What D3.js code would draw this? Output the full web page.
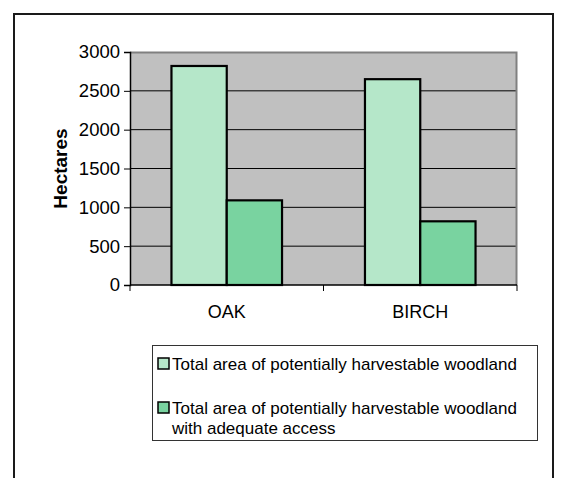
<!DOCTYPE html>
<meta charset="utf-8">
<style>
    body { margin: 0; background: #fff; }
    text { font-family: "Liberation Sans", Arial, sans-serif; fill: #000; }
    .tick text { font-size: 18.5px; }
</style>
<svg width="566" height="478"></svg>
<script src="https://cdn.jsdelivr.net/npm/d3@7/dist/d3.min.js"></script>
<script>

    var categories = ["OAK", "BIRCH"];
    var seriesNames = ["Total area of potentially harvestable woodland",
                       "Total area of potentially harvestable woodland with adequate access"];
    var totalArea = [2820, 2650];
    var accessArea = [1090, 820];
    var yTicks = [0, 500, 1000, 1500, 2000, 2500, 3000];
    var colors = ["#b5e7c9", "#79d3a0"];

    var svg = d3.select("svg");

    // outer chart border (bottom runs off the picture)
    svg.append("rect")
        .attr("x", 14).attr("y", 14)
        .attr("width", 539).attr("height", 480)
        .attr("fill", "none").attr("stroke", "#1a1a1a").attr("stroke-width", 2);

    var plot = {left: 130, top: 52, right: 517, bottom: 285};

    var x0 = d3.scaleBand().domain(categories).range([plot.left, plot.right]);
    var x1 = d3.scaleBand().domain([0, 1]).range([0, x0.bandwidth()])
        .paddingInner(0).paddingOuter(0.75);
    var y = d3.scaleLinear().domain([0, 3000]).range([plot.bottom, plot.top]);

    var g = svg.append("g");

    g.append("rect")
        .attr("x", plot.left).attr("y", plot.top)
        .attr("width", plot.right - plot.left).attr("height", plot.bottom - plot.top)
        .attr("fill", "#c0c0c0");

    // grid lines
    g.selectAll(".grid").data(yTicks.slice(1, -1)).enter().append("line")
        .attr("x1", plot.left).attr("x2", plot.right)
        .attr("y1", function(d) { return y(d); }).attr("y2", function(d) { return y(d); })
        .attr("stroke", "#000").attr("stroke-width", 1);

    // plot border top/right
    g.append("path")
        .attr("d", "M" + plot.left + "," + (plot.top + 0.5) + "H" + (plot.right - 0.5) + "V" + plot.bottom)
        .attr("fill", "none").attr("stroke", "#808080").attr("stroke-width", 2);

    var data = categories.map(function(c, i) { return {cat: c, vals: [totalArea[i], accessArea[i]]}; });

    var grp = g.selectAll(".grp").data(data).enter().append("g")
        .attr("transform", function(d) { return "translate(" + x0(d.cat) + ",0)"; });

    grp.selectAll("rect").data(function(d) { return d.vals; }).enter().append("rect")
        .attr("x", function(d, i) { return x1(i); })
        .attr("y", function(d) { return y(d); })
        .attr("width", x1.bandwidth())
        .attr("height", function(d) { return y(0) - y(d); })
        .attr("fill", function(d, i) { return colors[i]; })
        .attr("stroke", "#000").attr("stroke-width", 2.2);

    // y axis
    var yAxis = g.append("g")
        .attr("transform", "translate(" + plot.left + ",0)")
        .call(d3.axisLeft(y).tickValues(yTicks).tickSize(6).tickPadding(4).tickFormat(d3.format("d")));
    yAxis.select(".domain").attr("stroke", "#000").attr("stroke-width", 1.5);
    yAxis.selectAll(".tick line").attr("stroke", "#000");

    // x axis
    g.append("line")
        .attr("x1", plot.left).attr("x2", plot.right)
        .attr("y1", plot.bottom).attr("y2", plot.bottom)
        .attr("stroke", "#000").attr("stroke-width", 1.5);
    var bounds = categories.map(function(c) { return x0(c); }).concat([plot.right]);
    g.selectAll(".xt").data(bounds).enter().append("line")
        .attr("x1", function(d) { return d; }).attr("x2", function(d) { return d; })
        .attr("y1", plot.bottom).attr("y2", plot.bottom + 6)
        .attr("stroke", "#000");
    g.selectAll(".xl").data(categories).enter().append("text")
        .attr("x", function(d) { return x0(d) + x0.bandwidth() / 2; })
        .attr("y", 318)
        .attr("text-anchor", "middle")
        .style("font-size", "18px")
        .text(function(d) { return d; });

    svg.append("text")
        .attr("transform", "translate(67," + ((plot.top + plot.bottom) / 2) + ") rotate(-90)")
        .attr("text-anchor", "middle")
        .style("font-size", "19px").style("font-weight", "bold")
        .text("Hectares");

    // legend
    var leg = svg.append("g");
    leg.append("rect")
        .attr("x", 152.5).attr("y", 345.5).attr("width", 385).attr("height", 95)
        .attr("fill", "#fff").attr("stroke", "#333").attr("stroke-width", 1);

    var legendLines = [[seriesNames[0]], ["Total area of potentially harvestable woodland", "with adequate access"]];
    var legY = [370, 414];
    legendLines.forEach(function(lines, i) {
        leg.append("rect")
            .attr("x", 158).attr("y", legY[i] - 12).attr("width", 11).attr("height", 11)
            .attr("fill", colors[i]).attr("stroke", "#000").attr("stroke-width", 1.5);
        var t = leg.append("text").attr("x", 172).attr("y", legY[i]).style("font-size", "17px");
        lines.forEach(function(l, j) {
            t.append("tspan").attr("x", 172).attr("dy", j ? 20 : 0).text(l);
        });
    });

</script>
